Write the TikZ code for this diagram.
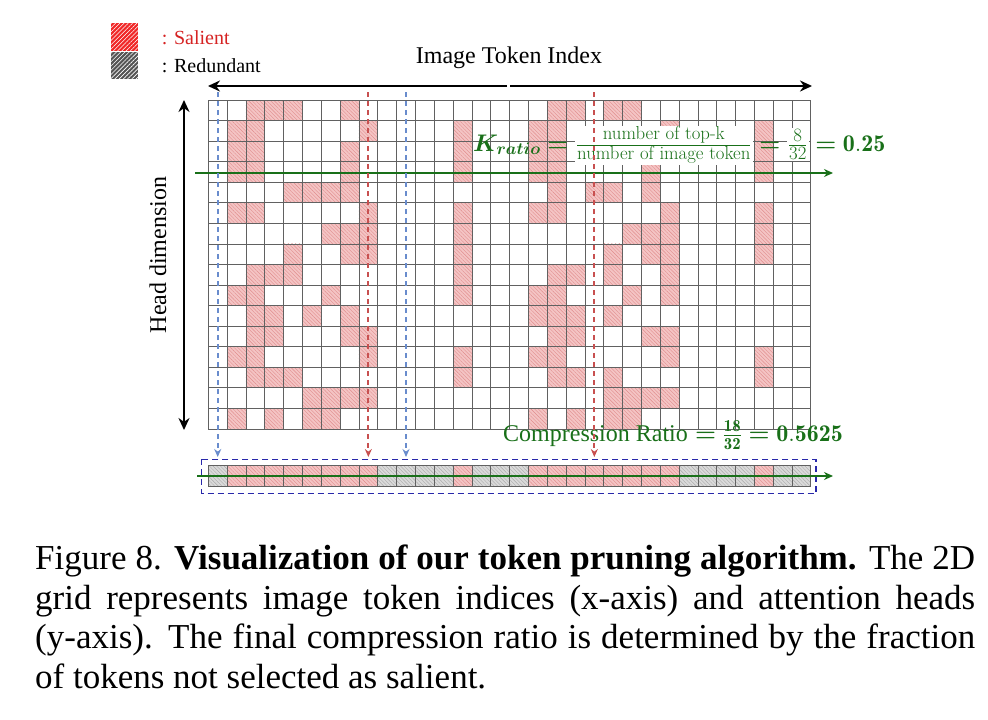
\RequirePackage{fix-cm}
\documentclass[tikz,border=0pt]{standalone}
\usepackage{fontspec}
\usepackage{amsmath}
\usetikzlibrary{arrows.meta,patterns.meta}
\newfontfamily\tnr{Liberation Serif}
\definecolor{dgreen}{RGB}{25,112,25}
\definecolor{cellred}{RGB}{244,196,196}
\definecolor{hatchred}{RGB}{224,140,140}
\definecolor{cellgray}{RGB}{218,218,218}
\definecolor{hatchgray}{RGB}{170,170,170}
\definecolor{salred}{RGB}{214,35,35}
\definecolor{legred}{RGB}{240,40,40}
\definecolor{leggray}{RGB}{85,85,85}
\definecolor{dblue}{RGB}{105,140,205}
\definecolor{dred}{RGB}{200,80,80}
\definecolor{navyb}{RGB}{40,40,170}
\def\GX{208.3}\def\GY{100}\def\CW{18.83}\def\RH{20.56}
\newcommand{\fracfont}{\fontsize{18.8}{22}\selectfont}
\tikzset{
  gridl/.style={draw=black!62, line width=0.75pt},
  redcell/.style={fill=cellred, postaction={pattern={Lines[angle=-45,distance=2.6pt,line width=0.4pt]}, pattern color=hatchred}},
  graycell/.style={fill=cellgray, postaction={pattern={Lines[angle=-45,distance=2.6pt,line width=0.4pt]}, pattern color=hatchgray}},
  bigarrow/.style={line width=2.4pt, -{Stealth[length=12pt,width=11pt]}},
  garrow/.style={draw=dgreen, line width=1.8pt, -{Stealth[length=9pt,width=8pt]}},
  bdash/.style={draw=dblue, line width=2pt, dash pattern=on 5pt off 4pt, -{Stealth[length=8pt,width=7pt]}},
  rdash/.style={draw=dred, line width=2pt, dash pattern=on 5pt off 4pt, -{Stealth[length=8pt,width=7pt]}},
  lbl/.style={inner sep=0pt, font=\tnr\fontsize{24}{28}\selectfont},
  caplbl/.style={inner sep=0pt, anchor=base west, font=\tnr\fontsize{35}{40}\selectfont},
}
\begin{document}
\begin{tikzpicture}[x=1pt,y=-1pt]
\useasboundingbox[fill=white] (0,0) rectangle (988,720);

% legend
\fill[legred, postaction={pattern={Lines[angle=45,distance=3pt,line width=0.6pt]}, pattern color=white}] (110.7,23.3) rectangle (138.3,50.7);
\fill[leggray, postaction={pattern={Lines[angle=45,distance=3pt,line width=0.6pt]}, pattern color=white}] (110.7,51.7) rectangle (138.3,79.3);
\node[lbl, font=\tnr\fontsize{20}{24}\selectfont, anchor=base west, text=salred] (sal) at (161.7,44) {: Salient};
\node[lbl, font=\tnr\fontsize{20}{24}\selectfont, anchor=base west] (redu) at (161.7,72.7) {: Redundant};

% salient cells of the grid
\foreach \cols [count=\r from 0] in {
  {2,3,4,7,18,19,21,22},
  {1,2,8,13,17,18,24,29},
  {1,2,7,13,17,18,23,29},
  {1,2,7,13,17,18,23,29},
  {4,5,6,7,18,20,21,23},
  {1,2,8,13,17,18,24,29},
  {6,7,8,13,22,23,24,29},
  {4,7,8,13,21,23,24,29},
  {2,3,4,13,18,19,21,24},
  {1,2,6,13,17,18,22,24},
  {2,3,5,7,17,18,19,21},
  {2,3,7,8,18,19,23,24},
  {1,2,8,13,17,18,24,29},
  {2,3,4,13,18,19,21,29},
  {5,6,7,8,21,22,23,24},
  {1,3,5,6,17,19,21,22}} {
  \foreach \c in \cols {
    \fill[redcell] ({\GX+\CW*\c},{\GY+\RH*\r}) rectangle ++(\CW,\RH);
  }
}
% grid lines
\foreach \i in {0,...,32} \draw[gridl] ({\GX+\CW*\i},\GY) -- ({\GX+\CW*\i},{\GY+16*\RH});
\foreach \j in {0,...,16} \draw[gridl] (\GX,{\GY+\RH*\j}) -- ({\GX+32*\CW},{\GY+\RH*\j});

% bottom bar
\foreach \c in {1,2,3,4,5,6,7,8,13,17,18,19,20,21,22,23,24,29}
  \fill[redcell] ({\GX+\CW*\c},465.7) rectangle ++(\CW,\RH);
\foreach \c in {0,9,10,11,12,14,15,16,25,26,27,28,30,31}
  \fill[graycell] ({\GX+\CW*\c},465.7) rectangle ++(\CW,\RH);
\foreach \i in {0,...,32} \draw[gridl] ({\GX+\CW*\i},465.7) -- ({\GX+\CW*\i},486.26);
\draw[gridl] (\GX,465.7) -- ({\GX+32*\CW},465.7);
\draw[gridl] (\GX,486.26) -- ({\GX+32*\CW},486.26);
\draw[draw=navyb, line width=1.3pt, dash pattern=on 6pt off 4pt] (201.7,459.3) rectangle (816,493.3);

% axes
\coordinate (tmid1) at (507,86);
\coordinate (tmid2) at (510,86);
\coordinate (tleft) at (208,86);
\coordinate (tright) at (812,86);
\draw[bigarrow] (tmid1) -- (tleft);
\draw[bigarrow] (tmid2) -- (tright);
\node[lbl, anchor=base] (iti) at (509,63) {Image Token Index};
\coordinate (vtop) at (184,100);
\coordinate (vbot) at (184,430);
\draw[line width=2.4pt, {Stealth[length=12pt,width=11pt]}-{Stealth[length=12pt,width=11pt]}] (vtop) -- (vbot);
\node[lbl, rotate=90] (hd) at (158,255) {Head dimension};

% green lines
\coordinate (g1s) at (195,173);
\coordinate (g1e) at (833,173);
\draw[garrow] (g1s) -- (g1e);
\coordinate (g2s) at (197,476);
\coordinate (g2e) at (833,476);
\draw[garrow] (g2s) -- (g2e);

% equations
\node[inner sep=0pt, anchor=base west, text=dgreen, font=\fontsize{24}{28}\selectfont] (kr) at (473,151)
  {$\boldsymbol{K_{ratio}} \boldsymbol{=} {\setlength{\fboxsep}{1pt}\colorbox{white}{$\frac{\text{\fracfont number of top-k}}{\text{\fracfont number of image token}}$}} \boldsymbol{=} {\setlength{\fboxsep}{1pt}\colorbox{white}{$\frac{\text{\fracfont 8}}{\text{\fracfont 32}}$}} \boldsymbol{=} \mathbf{0.25}$};
\node[inner sep=0pt, anchor=base west, text=dgreen, font=\fontsize{24}{28}\selectfont] (cr) at (503,441)
  {{\tnr Compression Ratio} $\boldsymbol{=} \frac{\mathbf{18}}{\mathbf{32}} \boldsymbol{=} \mathbf{0.5625}$};

% dashed selection arrows
\coordinate (b1s) at ({\GX+0.5*\CW},92);  \coordinate (b1e) at ({\GX+0.5*\CW},457);
\coordinate (r1s) at ({\GX+8.5*\CW},92);  \coordinate (r1e) at ({\GX+8.5*\CW},457);
\coordinate (b2s) at ({\GX+10.5*\CW},92); \coordinate (b2e) at ({\GX+10.5*\CW},457);
\coordinate (r2s) at ({\GX+20.5*\CW},92); \coordinate (r2e) at ({\GX+20.5*\CW},457);
\draw[bdash] (b1s) -- (b1e);
\draw[rdash] (r1s) -- (r1e);
\draw[bdash] (b2s) -- (b2e);
\draw[rdash] (r2s) -- (r2e);

% caption
\node[caplbl] (cap1) at (35,569) {\makebox[940pt][s]{Figure 8. \textbf{Visualization of our token pruning algorithm.} The 2D}};
\node[caplbl] (cap2) at (35,609) {\makebox[940pt][s]{grid represents image token indices (x-axis) and attention heads}};
\node[caplbl] (cap3) at (35,648) {\makebox[940pt][s]{(y-axis). The final compression ratio is determined by the fraction}};
\node[caplbl] (cap4) at (35,688) {of tokens not selected as salient.};
\end{tikzpicture}
\end{document}
